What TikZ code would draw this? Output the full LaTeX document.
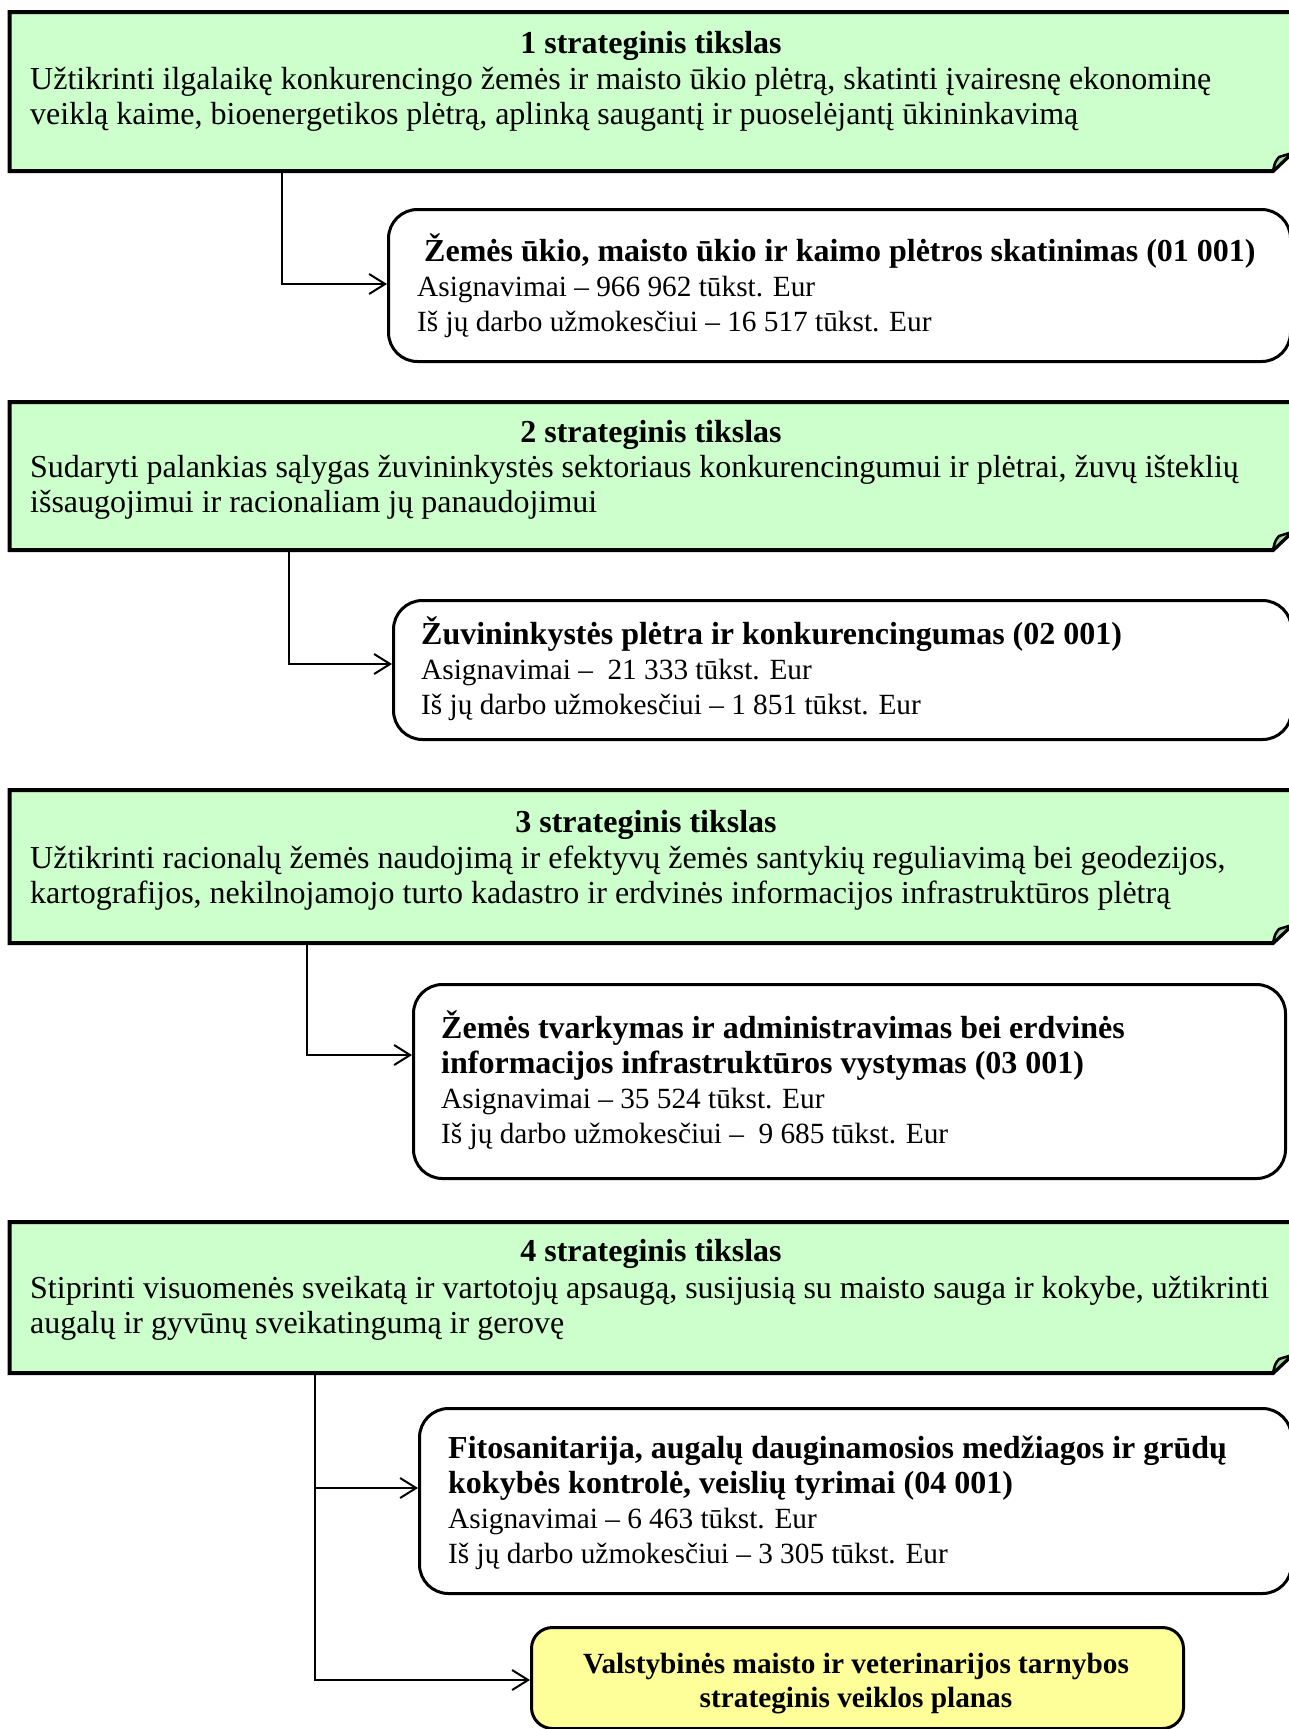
\documentclass[tikz,border=0pt]{standalone}
\usepackage{fontspec}
\setmainfont{Liberation Serif}
\usetikzlibrary{arrows.meta,calc}
\definecolor{goalgreen}{HTML}{CCFFCC}
\definecolor{foldgreen}{HTML}{A6D4A6}
\definecolor{planyellow}{HTML}{FFFF99}
\newcommand\ptitle[1]{{\fontsize{32}{34.7}\selectfont\bfseries #1}}
\tikzset{
  goalbox/.style={inner sep=0pt, outer sep=0pt, draw=none, anchor=north west},
  goalline/.style={line width=4pt, line join=miter, fill=goalgreen},
  progbox/.style={draw, line width=3pt, rounded corners=29pt, inner sep=0pt, anchor=north west, fill=white},
  planbox/.style={draw, line width=3pt, rounded corners=21pt, inner sep=0pt, anchor=north west, fill=planyellow},
  gtxt/.style={inner sep=0pt, font=\fontsize{32}{35.5}\selectfont, align=left, anchor=base west},
  gtitle/.style={inner sep=0pt, font=\fontsize{32}{35.5}\selectfont\bfseries, anchor=base},
  ptxt/.style={inner sep=0pt, font=\fontsize{29.3}{34.7}\selectfont, align=left, anchor=base west},
  etxt/.style={inner sep=0pt, font=\fontsize{29.3}{34}\selectfont\bfseries, align=center, anchor=base},
  conn/.style={line width=2pt, -{Straight Barb[length=16pt,width=20pt]}},
}
\newcommand\goalshape[1]{%
  \filldraw[goalline] (#1.north west) -- (#1.north east) -- ($(#1.south east)+(0,-18)$)
    -- ($(#1.south east)+(-19,0)$) -- (#1.south west) -- cycle;
  \filldraw[fill=foldgreen, line width=2.5pt, line join=round]
    ($(#1.south east)+(-19,0)$) .. controls ($(#1.south east)+(-17,-9)$) .. ($(#1.south east)+(-13,-14)$)
    -- ($(#1.south east)+(0,-18)$) -- cycle;
}
\begin{document}
\begin{tikzpicture}[x=1pt,y=-1pt]
\useasboundingbox (0,0) rectangle (1288,1729);
\fill[white] (0,0) rectangle (1288,1729);

% goal boxes
\node[goalbox, minimum width=1282.5pt, minimum height=159pt] (g1) at (9.5,12) {};
\node[goalbox, minimum width=1282.5pt, minimum height=148pt] (g2) at (9.5,402) {};
\node[goalbox, minimum width=1282.5pt, minimum height=153pt] (g3) at (9.5,790) {};
\node[goalbox, minimum width=1282.5pt, minimum height=151pt] (g4) at (9.5,1222) {};

% connector junction coordinates
\coordinate (j1) at (282,284);
\coordinate (j2) at (289,664);
\coordinate (j3) at (307,1055);
\coordinate (j4) at (315,1488);
\coordinate (j5) at (315,1680);

% program boxes
\node[progbox, minimum width=902pt, minimum height=152pt] (p1) at (387,208) {};
\node[progbox, minimum width=898pt, minimum height=139pt] (p2) at (392,599) {};
\node[progbox, minimum width=872pt, minimum height=194pt] (p3) at (412,983) {};
\node[progbox, minimum width=872pt, minimum height=185pt] (p4) at (418,1407) {};
\node[planbox, minimum width=652pt, minimum height=101pt] (p5) at (530,1626) {};

% connectors
\draw[conn] (g1.south -| j1) |- (p1.west |- j1);
\draw[conn] (g2.south -| j2) |- (p2.west |- j2);
\draw[conn] (g3.south -| j3) |- (p3.west |- j3);
\draw[conn] (g4.south -| j4) |- (p4.west |- j4);
\draw[conn] (g4.south -| j5) |- (p5.west |- j5);

\goalshape{g1}
\goalshape{g2}
\goalshape{g3}
\goalshape{g4}

% goal texts (base anchor = baseline of the last line)
\node[gtitle] (t1) at (651,53) {1 strateginis tikslas};
\node[gtxt] (b1) at (30,124.5) {Užtikrinti ilgalaikę konkurencingo žemės ir maisto ūkio plėtrą, skatinti įvairesnę ekonominę\\veiklą kaime, bioenergetikos plėtrą, aplinką saugantį ir puoselėjantį ūkininkavimą};

\node[gtitle] (t2) at (651,442) {2 strateginis tikslas};
\node[gtxt] (b2) at (30,512.5) {Sudaryti palankias sąlygas žuvininkystės sektoriaus konkurencingumui ir plėtrai, žuvų išteklių\\išsaugojimui ir racionaliam jų panaudojimui};

\node[gtitle] (t3) at (646,832) {3 strateginis tikslas};
\node[gtxt] (b3) at (30,903.5) {Užtikrinti racionalų žemės naudojimą ir efektyvų žemės santykių reguliavimą bei geodezijos,\\kartografijos, nekilnojamojo turto kadastro ir erdvinės informacijos infrastruktūros plėtrą};

\node[gtitle] (t4) at (651,1261) {4 strateginis tikslas};
\node[gtxt] (b4) at (30,1333.5) {Stiprinti visuomenės sveikatą ir vartotojų apsaugą, susijusią su maisto sauga ir kokybe, užtikrinti\\augalų ir gyvūnų sveikatingumą ir gerovę};

% program texts (base anchor = baseline of the last line)
\node[ptxt] (q1) at (417,331) {\hspace*{7pt}\ptitle{Žemės ūkio, maisto ūkio ir kaimo plėtros skatinimas (01 001)}\\Asignavimai – 966 962 tūkst. Eur\\Iš jų darbo užmokesčiui – 16 517 tūkst. Eur};
\node[ptxt] (q2) at (421,714) {\ptitle{Žuvininkystės plėtra ir konkurencingumas (02 001)}\\Asignavimai –\ \ 21 333 tūkst. Eur\\Iš jų darbo užmokesčiui – 1 851 tūkst. Eur};
\node[ptxt] (q3) at (441,1143) {\ptitle{Žemės tvarkymas ir administravimas bei erdvinės}\\\ptitle{informacijos infrastruktūros vystymas (03 001)}\\Asignavimai – 35 524 tūkst. Eur\\Iš jų darbo užmokesčiui –\ \ 9 685 tūkst. Eur};
\node[ptxt] (q4) at (448,1563) {\ptitle{Fitosanitarija, augalų dauginamosios medžiagos ir grūdų}\\\ptitle{kokybės kontrolė, veislių tyrimai (04 001)}\\Asignavimai – 6 463 tūkst. Eur\\Iš jų darbo užmokesčiui – 3 305 tūkst. Eur};
\node[etxt] (q5) at (856,1707) {Valstybinės maisto ir veterinarijos tarnybos\\strateginis veiklos planas};
\end{tikzpicture}
\end{document}
